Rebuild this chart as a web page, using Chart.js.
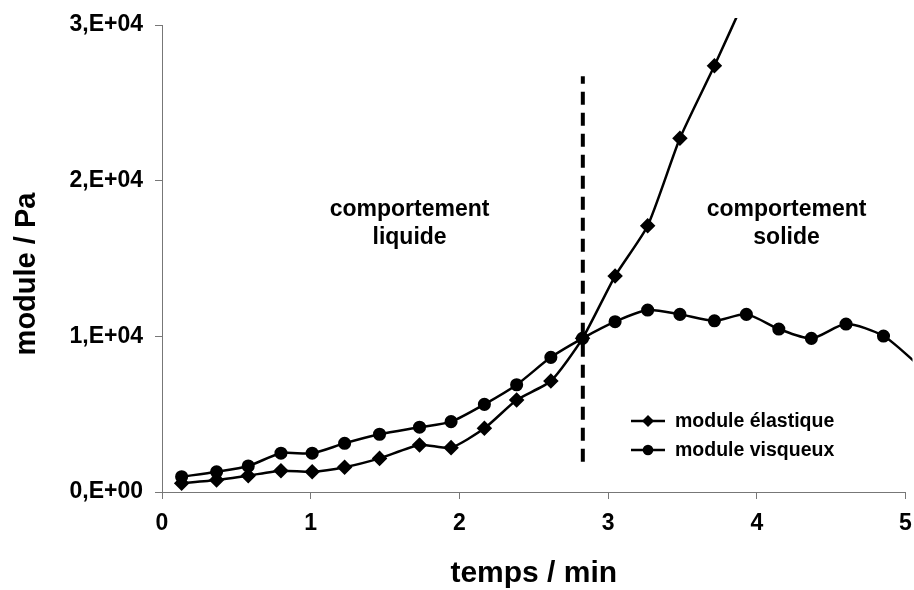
<!DOCTYPE html>
<html lang="fr">
<head>
<meta charset="UTF-8">
<title>module / Pa vs temps / min</title>
<script src="https://cdn.jsdelivr.net/npm/chart.js"></script>
<style>
  html, body { margin: 0; padding: 0; background: #fff; }
  #wrap { width: 914px; height: 590px; position: relative; }
</style>
</head>
<body>
<div id="wrap"><canvas id="chart" width="914" height="590"></canvas></div>
<script>
// temps / min (shared by both series)
const temps = [0.132, 0.367, 0.58, 0.80, 1.01, 1.228, 1.463, 1.732, 1.944, 2.168, 2.385, 2.615,
               2.828, 3.047, 3.266, 3.483, 3.715, 3.93, 4.148, 4.367, 4.60, 4.852, 5.07];
// module élastique (Pa) - goes off the top after ~3.8 min
const moduleElastique = [560, 770, 1050, 1370, 1300, 1590, 2160, 3020, 2850, 4090, 5910, 7130,
                         9870, 13870, 17100, 22720, 27380, 31900];
// module visqueux (Pa)
const moduleVisqueux = [980, 1300, 1670, 2490, 2490, 3130, 3710, 4160, 4520, 5630, 6890, 8650,
                        9870, 10940, 11690, 11410, 11000, 11410, 10470, 9870, 10790, 10020, 8300];
// gel point marker
const gelTime = 2.83;
const gelLine = [1950, 26700];

const yTickLabels = ['0,E+00', '1,E+04', '2,E+04', '3,E+04'];
const xTickLabels = ['0', '1', '2', '3', '4', '5'];

const FONT = "'Liberation Sans', Arial, sans-serif";

const toPts = (ys) => ys.map((y, i) => ({ x: temps[i], y: y }));

// annotations, y title and legend drawn on the canvas
const overlay = {
  id: 'overlay',
  afterDatasetsDraw(chart) {
    const { ctx, scales: { x, y } } = chart;
    ctx.save();
    ctx.fillStyle = '#000';
    ctx.textAlign = 'center';
    ctx.textBaseline = 'alphabetic';
    ctx.font = 'bold 23px ' + FONT;
    const notes = [
      { t: 1.665, lines: ['comportement', 'liquide'] },
      { t: 4.20, lines: ['comportement', 'solide'] }
    ];
    notes.forEach(n => {
      const px = x.getPixelForValue(n.t);
      const py = y.getPixelForValue(17700);
      n.lines.forEach((s, i) => ctx.fillText(s, px, py + i * 28));
    });

    // y title (sits a bit below the plot centre, like the original)
    ctx.save();
    ctx.translate(27, 274);
    ctx.rotate(-Math.PI / 2);
    ctx.textBaseline = 'middle';
    ctx.font = 'bold 29px ' + FONT;
    ctx.fillText('module / Pa', 0, 0);
    ctx.restore();

    // legend
    const items = [
      { label: 'module élastique', marker: 'diamond' },
      { label: 'module visqueux', marker: 'circle' }
    ];
    ctx.textAlign = 'left';
    ctx.textBaseline = 'middle';
    ctx.font = 'bold 19.5px ' + FONT;
    items.forEach((it, i) => {
      const ly = 421 + i * 29;
      ctx.strokeStyle = '#000';
      ctx.lineWidth = 2.5;
      ctx.beginPath();
      ctx.moveTo(631, ly);
      ctx.lineTo(665, ly);
      ctx.stroke();
      ctx.beginPath();
      if (it.marker === 'diamond') {
        ctx.moveTo(648, ly - 6); ctx.lineTo(654, ly); ctx.lineTo(648, ly + 6); ctx.lineTo(642, ly);
        ctx.closePath();
      } else {
        ctx.arc(648, ly, 5.3, 0, Math.PI * 2);
      }
      ctx.fill();
      ctx.fillText(it.label, 675, ly + 1);
    });
    ctx.restore();
  }
};

const ctx = document.getElementById('chart').getContext('2d');
new Chart(ctx, {
  type: 'line',
  data: {
    datasets: [
      {
        label: 'module élastique',
        data: toPts(moduleElastique),
        borderColor: '#000',
        backgroundColor: '#000',
        borderWidth: 2.5,
        pointStyle: 'rectRot',
        pointRadius: 6,
        tension: 0.2,
        clip: { left: 0, top: 7, right: 7, bottom: 0 }
      },
      {
        label: 'module visqueux',
        data: toPts(moduleVisqueux),
        borderColor: '#000',
        backgroundColor: '#000',
        borderWidth: 2.5,
        pointStyle: 'circle',
        pointRadius: 5.3,
        tension: 0.25,
        clip: { left: 0, top: 7, right: 7, bottom: 0 }
      },
      {
        label: 'gel',
        data: gelLine.map(v => ({ x: gelTime, y: v })),
        borderColor: '#000',
        borderWidth: 4,
        borderDash: [13, 8],
        pointRadius: 0,
        tension: 0
      }
    ]
  },
  options: {
    responsive: false,
    animation: false,
    events: [],
    layout: { padding: { left: 0, top: 25, right: 7, bottom: 0 } },
    plugins: { legend: { display: false }, tooltip: { enabled: false } },
    scales: {
      x: {
        type: 'linear',
        min: 0, max: 5,
        border: { display: true, color: '#777', width: 1 },
        grid: { drawOnChartArea: false, drawTicks: true, tickLength: 7, color: '#777' },
        ticks: {
          stepSize: 1, padding: 11, color: '#000',
          font: { family: FONT, size: 23, weight: 'bold' },
          callback: (v) => xTickLabels[v] !== undefined ? xTickLabels[v] : ''
        },
        title: {
          display: true, text: 'temps / min', color: '#000',
          font: { family: FONT, size: 30, weight: 'bold', lineHeight: 1 },
          padding: { top: 0, bottom: 1 }
        },
        afterFit(s) { s.height = 98; s.paddingLeft = 0; s.paddingRight = 0; }
      },
      y: {
        min: 0, max: 30000,
        border: { display: true, color: '#777', width: 1 },
        grid: { drawOnChartArea: false, drawTicks: true, tickLength: 7, color: '#777' },
        ticks: {
          stepSize: 10000, padding: 12, color: '#000',
          font: { family: FONT, size: 23, weight: 'bold' },
          callback: (v) => yTickLabels[v / 10000] || ''
        },
        title: { display: false },
        afterFit(s) { s.width = 162; s.paddingTop = 0; s.paddingBottom = 0; }
      }
    }
  },
  plugins: [overlay]
});
</script>
</body>
</html>
